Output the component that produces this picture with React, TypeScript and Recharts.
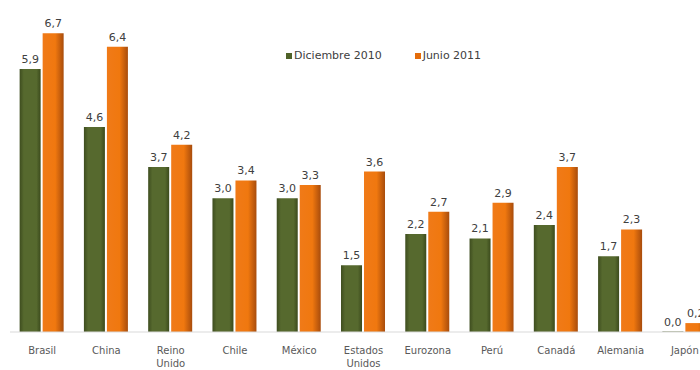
import { BarChart, Bar, XAxis, YAxis, LabelList } from "recharts";

const countries = ["Brasil", "China", "Reino Unido", "Chile", "México", "Estados Unidos", "Eurozona", "Perú", "Canadá", "Alemania", "Japón"];
const dic2010 = [5.9, 4.6, 3.7, 3.0, 3.0, 1.5, 2.2, 2.1, 2.4, 1.7, 0.0];
const jun2011 = [6.7, 6.4, 4.2, 3.4, 3.3, 3.6, 2.7, 2.9, 3.7, 2.3, 0.2];

const chartData = countries.map((c, i) => ({ country: c, dic: dic2010[i], jun: jun2011[i] }));

const fmt = (v: any) => Number(v).toFixed(1).replace(".", ",");

const CountryTick = (props: any) => {
    const { x, y, payload } = props;
    const words = String(payload.value).split(" ");
    return (
        <text x={x} y={y + 14} textAnchor="middle" fontSize={10} fill="#595959" fontFamily="DejaVu Sans">
            {words.map((w: string, i: number) => (
                <tspan key={i} x={x} dy={i === 0 ? 0 : 13}>{w}</tspan>
            ))}
        </text>
    );
};

const LegendBox = () => (
    <div style={{ position: "absolute", left: 286, top: 49, display: "flex", fontFamily: "DejaVu Sans", fontSize: 11, color: "#404040" }}>
        <span style={{ display: "flex", alignItems: "center", marginRight: 33 }}>
            <span style={{ width: 6, height: 6, background: "#4f6228", marginRight: 2 }} />Diciembre 2010
        </span>
        <span style={{ display: "flex", alignItems: "center" }}>
            <span style={{ width: 6, height: 6, background: "#e46c0a", marginRight: 2 }} />Junio 2011
        </span>
    </div>
);

export default function App() {
    return (
        <div style={{ position: "fixed", left: 0, top: 0, width: 700, height: 370, overflow: "hidden", background: "#fff" }}>
            <BarChart width={720} height={370} data={chartData} margin={{ top: 20, right: 3, bottom: 0, left: 10 }} barGap={2} barCategoryGap="15%">
                <defs>
                    <linearGradient id="gGreen" x1="0" y1="0" x2="1" y2="0">
                        <stop offset="0%" stopColor="#3e4d1f" />
                        <stop offset="20%" stopColor="#56692e" />
                        <stop offset="80%" stopColor="#56692e" />
                        <stop offset="100%" stopColor="#3b4a1c" />
                    </linearGradient>
                    <linearGradient id="gOrange" x1="0" y1="0" x2="1" y2="0">
                        <stop offset="0%" stopColor="#f07a18" />
                        <stop offset="60%" stopColor="#f0780f" />
                        <stop offset="100%" stopColor="#a84c0c" />
                    </linearGradient>
                </defs>
                <XAxis dataKey="country" interval={0} height={38} tickLine={false} axisLine={{ stroke: "#d9d9d9" }} tick={<CountryTick />} />
                <YAxis hide domain={[0, 7]} />
                <Bar dataKey="dic" fill="url(#gGreen)" minPointSize={0.5} isAnimationActive={false}>
                    <LabelList dataKey="dic" position="top" offset={6} formatter={fmt} fontSize={11} fill="#404040" fontFamily="DejaVu Sans" />
                </Bar>
                <Bar dataKey="jun" fill="url(#gOrange)" isAnimationActive={false}>
                    <LabelList dataKey="jun" position="top" offset={6} formatter={fmt} fontSize={11} fill="#404040" fontFamily="DejaVu Sans" />
                </Bar>
            </BarChart>
            <LegendBox />
        </div>
    );
}
